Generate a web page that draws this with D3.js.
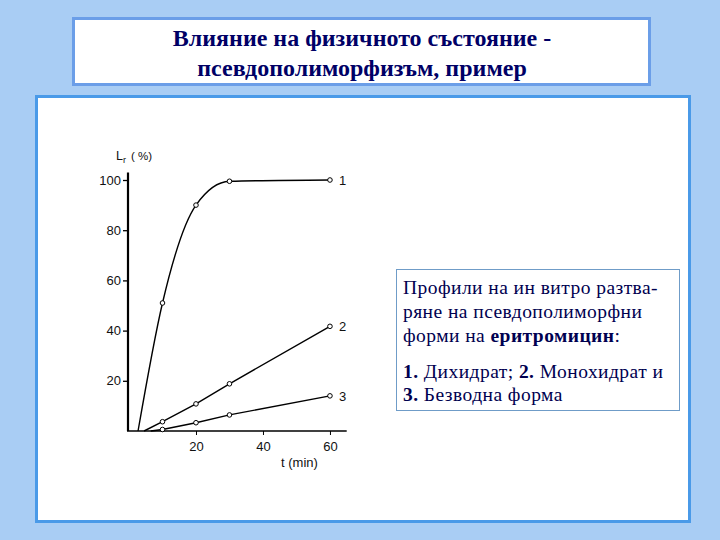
<!DOCTYPE html>
<html>
<head>
<meta charset="utf-8">
<script src="https://cdn.jsdelivr.net/npm/d3@7"></script>
<style>
  html, body { margin: 0; padding: 0; background: #a9cdf4; }
  svg { display: block; }
</style>
</head>
<body>
<div id="chart"></div>
<script>
// Dissolution profiles (t in min, L_r in %)
const series1 = [[2.7, 0], [10, 51], [20, 90], [30, 99.5], [60, 100]];
const series2 = [[4.5, 0], [10, 3.7], [20, 10.8], [30, 18.8], [60, 41.7]];
const series3 = [[6.5, 0], [10, 0.6], [20, 3.3], [30, 6.4], [60, 14]];
const seriesNames = ['1', '2', '3'];
const markerT = [10, 20, 30, 60];
const yTicks = [20, 40, 60, 80, 100];
const xTicks = [20, 40, 60];

const titleLines = ['Влияние на физичното състояние -', 'псевдополиморфизъм, пример'];

const svg = d3.select('#chart').append('svg')
    .attr('width', 720)
    .attr('height', 540);

// slide background boxes
svg.append('rect').attr('x', 0).attr('y', 0).attr('width', 720).attr('height', 540).attr('fill', '#a9cdf4');

svg.append('rect')
    .attr('x', 73.5).attr('y', 18.5).attr('width', 576).attr('height', 66)
    .attr('fill', '#fff').attr('stroke', '#6b9ee8').attr('stroke-width', 3);

svg.append('rect')
    .attr('x', 36.5).attr('y', 96.5).attr('width', 653).attr('height', 425)
    .attr('fill', '#fff').attr('stroke', '#4a9ae8').attr('stroke-width', 3);

// title
const title = svg.append('text')
    .attr('text-anchor', 'middle')
    .attr('font-family', '"Liberation Serif", "Times New Roman", serif')
    .attr('font-weight', 'bold')
    .attr('font-size', 24)
    .attr('fill', '#000066');
titleLines.forEach((t, i) => {
    title.append('tspan').attr('x', 362).attr('y', 46 + i * 30).text(t);
});

// chart scales
const x = d3.scaleLinear().domain([0, 65]).range([129, 346.7]);
const y = d3.scaleLinear().domain([0, 100]).range([431, 180]);

const g = svg.append('g')
    .attr('font-family', '"Liberation Sans", Arial, sans-serif')
    .attr('fill', '#111');

// axes, styled to mimic the scan
const yAxis = d3.axisLeft(y).tickValues(yTicks).tickSize(5).tickPadding(2);
const yg = g.append('g').attr('transform', `translate(${x(0) - 1},0)`).call(yAxis);
yg.select('.domain').remove();
yg.append('line').attr('x1', 0).attr('x2', 0).attr('y1', y(0)).attr('y2', y(103))
    .attr('stroke', '#000').attr('stroke-width', 2.2);
yg.selectAll('.tick line').attr('stroke', '#000').attr('stroke-width', 1.3);
yg.selectAll('.tick text').attr('font-size', 13).attr('fill', '#111')
    .attr('font-family', '"Liberation Sans", Arial, sans-serif');

const xAxis = d3.axisBottom(x).tickValues(xTicks).tickSize(4).tickPadding(7);
const xg = g.append('g').attr('transform', `translate(0,${y(0)})`).call(xAxis);
xg.select('.domain').remove();
xg.append('line').attr('x1', x(0) - 2).attr('x2', x(65)).attr('y1', 0).attr('y2', 0)
    .attr('stroke', '#000').attr('stroke-width', 1.6);
xg.selectAll('.tick line').attr('stroke', '#000').attr('stroke-width', 1);
xg.selectAll('.tick text').attr('font-size', 13).attr('fill', '#111')
    .attr('font-family', '"Liberation Sans", Arial, sans-serif');

// axis titles
g.append('text').attr('x', 116).attr('y', 160).attr('font-size', 12.5).text('L')
  .append('tspan').attr('font-size', 9).attr('dy', 3).text('r');
g.append('text').attr('x', 131).attr('y', 160).attr('font-size', 11.5).text('( %)');
g.append('text').attr('x', 281).attr('y', 467).attr('font-size', 13).text('t  (min)');

// curves
const line1 = d3.line().x(d => x(d[0])).y(d => y(d[1])).curve(d3.curveMonotoneX);
const lineStraight = d3.line().x(d => x(d[0])).y(d => y(d[1]));

const allSeries = [
    { data: series1, gen: line1 },
    { data: series2, gen: lineStraight },
    { data: series3, gen: lineStraight }
];

allSeries.forEach((s, i) => {
    g.append('path')
        .attr('d', s.gen(s.data))
        .attr('fill', 'none')
        .attr('stroke', '#000')
        .attr('stroke-width', 1.4);

    g.selectAll(null)
        .data(s.data.filter(d => markerT.includes(d[0])))
        .enter().append('circle')
        .attr('cx', d => x(d[0]))
        .attr('cy', d => y(d[1]))
        .attr('r', 2.3)
        .attr('fill', '#fff')
        .attr('stroke', '#000')
        .attr('stroke-width', 1);

    const last = s.data[s.data.length - 1];
    g.append('text')
        .attr('x', x(last[0]) + 9)
        .attr('y', y(last[1]) + 5)
        .attr('font-size', 13)
        .text(seriesNames[i]);
});

// description box
svg.append('rect')
    .attr('x', 396.5).attr('y', 269.5).attr('width', 283).attr('height', 141)
    .attr('fill', '#fff').attr('stroke', '#6f9cc8').attr('stroke-width', 1);

const desc = svg.append('text')
    .attr('font-family', '"Liberation Serif", "Times New Roman", serif')
    .attr('font-size', 19.5)
    .attr('letter-spacing', 0.45)
    .attr('fill', '#000050');
const descLines = [
    { y: 294, parts: [['Профили на ин витро разтва-', false]] },
    { y: 318, parts: [['ряне на псевдополиморфни', false]] },
    { y: 342, parts: [['форми на ', false], ['еритромицин', true], [':', false]] },
    { y: 378, parts: [['1.', true], [' Дихидрат; ', false], ['2.', true], [' Монохидрат и', false]] },
    { y: 401, parts: [['3.', true], [' Безводна форма', false]] }
];
descLines.forEach(l => {
    l.parts.forEach((p, j) => {
        const ts = desc.append('tspan').text(p[0]).attr('font-weight', p[1] ? 'bold' : 'normal');
        if (j === 0) ts.attr('x', 403).attr('y', l.y);
    });
});
</script>
</body>
</html>
